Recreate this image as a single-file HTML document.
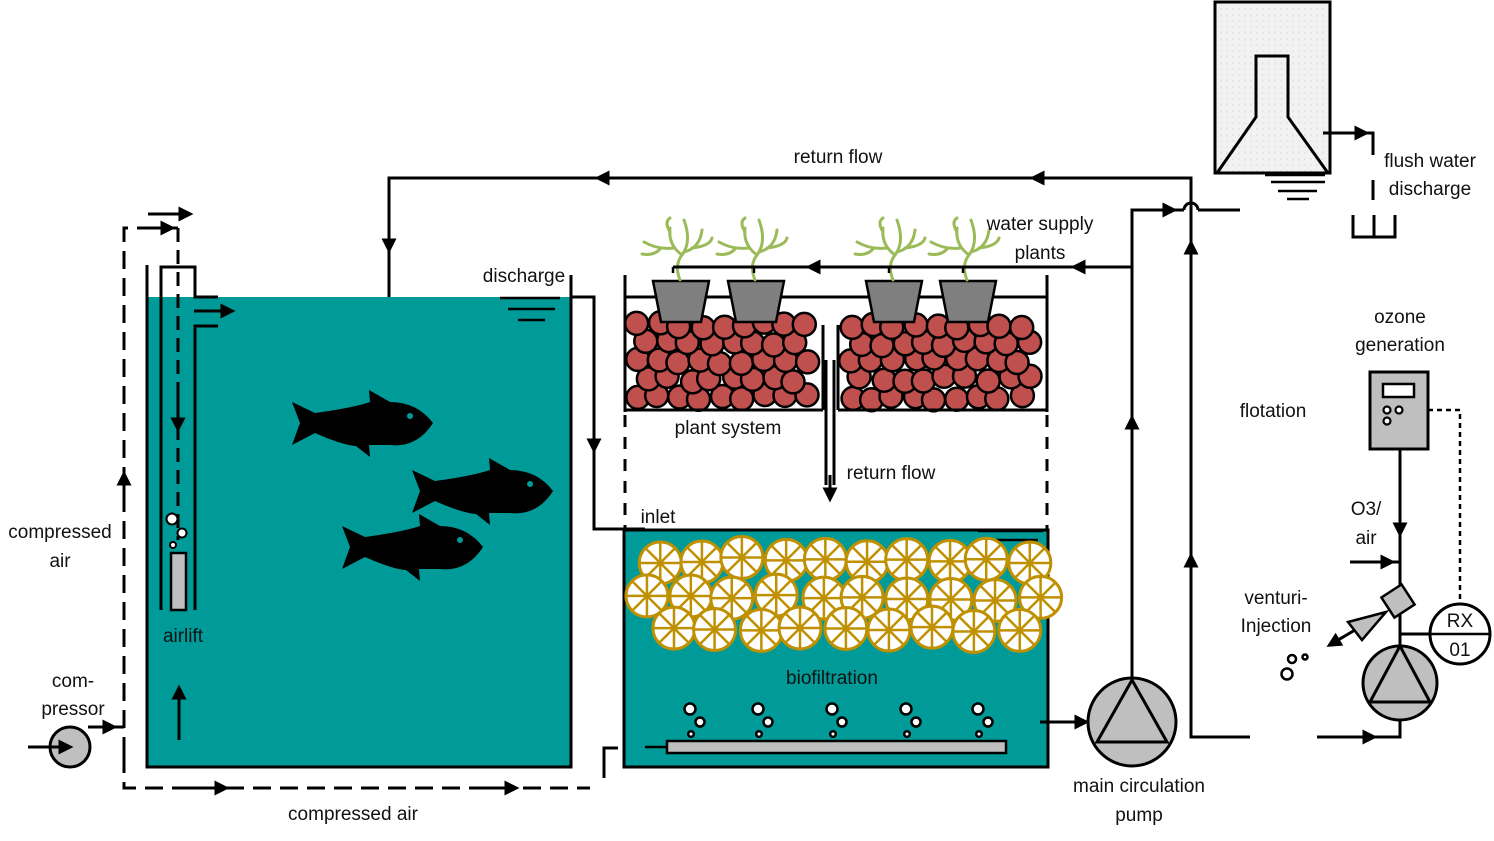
<!DOCTYPE html>
<html><head><meta charset="utf-8">
<style>
html,body{margin:0;padding:0;background:#fff;}
svg{display:block;}
text{font-family:"Liberation Sans Narrow","Liberation Sans",sans-serif;font-size:19px;fill:#111;}
</style></head>
<body>
<svg id="s" width="1494" height="841" viewBox="0 0 1494 841" xmlns="http://www.w3.org/2000/svg">
<defs>
<marker id="a" viewBox="0 0 10 10" refX="5" refY="5" markerWidth="5.5" markerHeight="5" orient="auto"><path d="M0,0L10,5L0,10z" fill="#000"/></marker>
<pattern id="dots" width="6" height="6" patternUnits="userSpaceOnUse"><rect width="6" height="6" fill="#f2f2f2"/><circle cx="3" cy="3" r="0.6" fill="#ccc"/></pattern>
<path id="fish" d="M0,12 L23,23 Q60,18 78,12 L77,0 L98,12 Q125,12 141,33 Q125,58 98,55 L77,55 L78,67 L64,56 Q50,55 23,43 L0,55 L8,33 Z"/>
<g id="plant" fill="none" stroke="#9bbb59" stroke-width="3" stroke-linecap="round">
<path d="M0,60 Q-6,45 2,35 Q12,22 4,0"/>
<path d="M2,35 Q-12,25 -10,8"/>
<path d="M-6,28 Q-22,30 -36,22"/>
<path d="M-20,29 Q-26,36 -38,34"/>
<path d="M4,32 Q20,28 22,10"/>
<path d="M12,28 Q30,26 32,18"/>
<path d="M-10,12 Q-16,2 -10,-2"/>
</g>
</defs>

<rect x="147" y="297" width="424" height="470" fill="#009b98"/>
<polyline points="147,265 147,767 571,767 571,275" fill="none" stroke="#000" stroke-width="3"/>
<polyline points="161,610 161,267 195,267 195,297 218,297" fill="none" stroke="#000" stroke-width="3"/>
<polyline points="195,610 195,326 218,326" fill="none" stroke="#000" stroke-width="3"/>
<line x1="194" y1="311" x2="228" y2="311" stroke="#000" stroke-width="3" marker-end="url(#a)"/>
<rect x="171" y="553" width="15" height="57" fill="#bfbfbf" stroke="#000" stroke-width="2.5"/>
<g fill="#fff" stroke="#000" stroke-width="2"><circle cx="172" cy="519" r="5.5"/><circle cx="182" cy="533" r="4.5"/><circle cx="173" cy="545" r="3"/></g>
<line x1="178" y1="228" x2="178" y2="540" stroke="#000" stroke-width="3" stroke-dasharray="14,8"/>
<line x1="178" y1="395" x2="178" y2="425" stroke="#000" stroke-width="3" marker-end="url(#a)"/>
<line x1="179" y1="740" x2="179" y2="692" stroke="#000" stroke-width="3" marker-end="url(#a)"/>
<polyline points="124,755 124,228 178,228" fill="none" stroke="#000" stroke-width="3" stroke-dasharray="18,9"/>
<polyline points="124,755 124,788 590,788" fill="none" stroke="#000" stroke-width="3" stroke-dasharray="18,9"/>
<polyline points="604,778 604,748 618,748" fill="none" stroke="#000" stroke-width="3"/>
<line x1="140" y1="228" x2="168" y2="228" stroke="#000" stroke-width="3" marker-end="url(#a)"/>
<line x1="148" y1="214" x2="186" y2="214" stroke="#000" stroke-width="3" marker-end="url(#a)"/>
<line x1="124" y1="500" x2="124" y2="478" stroke="#000" stroke-width="3" marker-end="url(#a)"/>
<line x1="190" y1="788" x2="222" y2="788" stroke="#000" stroke-width="3" marker-end="url(#a)"/>
<line x1="480" y1="788" x2="512" y2="788" stroke="#000" stroke-width="3" marker-end="url(#a)"/>
<circle cx="70" cy="747" r="20" fill="#bfbfbf" stroke="#000" stroke-width="3"/>
<line x1="28" y1="747" x2="66" y2="747" stroke="#000" stroke-width="3" marker-end="url(#a)"/>
<polyline points="88,727 124,727" fill="none" stroke="#000" stroke-width="3"/>
<line x1="88" y1="727" x2="110" y2="727" stroke="#000" stroke-width="3" marker-end="url(#a)"/>
<g fill="#000">
<use href="#fish" x="292" y="390"/><use href="#fish" x="412" y="458"/><use href="#fish" x="342" y="514"/>
</g>
<g fill="#009b98"><circle cx="410" cy="416" r="3"/><circle cx="530" cy="484" r="3"/><circle cx="460" cy="540" r="3"/></g>

<polyline points="389,297 389,178 1191,178 1191,737 1250,737" fill="none" stroke="#000" stroke-width="3"/>
<line x1="389" y1="225" x2="389" y2="246" stroke="#000" stroke-width="3" marker-end="url(#a)"/>
<line x1="630" y1="178" x2="602" y2="178" stroke="#000" stroke-width="3" marker-end="url(#a)"/>
<line x1="1065" y1="178" x2="1037" y2="178" stroke="#000" stroke-width="3" marker-end="url(#a)"/>
<line x1="1191" y1="270" x2="1191" y2="247" stroke="#000" stroke-width="3" marker-end="url(#a)"/>
<line x1="1191" y1="585" x2="1191" y2="560" stroke="#000" stroke-width="3" marker-end="url(#a)"/>

<g stroke="#000" stroke-width="2.5"><line x1="500" y1="298" x2="560" y2="298"/><line x1="508" y1="309" x2="555" y2="309"/><line x1="518" y1="320" x2="545" y2="320"/></g>
<polyline points="571,297 594,297 594,529 645,529" fill="none" stroke="#000" stroke-width="3"/>
<line x1="594" y1="425" x2="594" y2="446" stroke="#000" stroke-width="3" marker-end="url(#a)"/>

<rect x="625" y="297" width="422" height="113" fill="#fff"/>
<g id="pebbles"></g>
<g stroke="#000" stroke-width="3" fill="none">
<line x1="625" y1="275" x2="625" y2="412"/><line x1="1047" y1="275" x2="1047" y2="412"/>
<line x1="625" y1="297" x2="1047" y2="297"/>
<line x1="625" y1="410" x2="823" y2="410"/><line x1="838" y1="410" x2="1047" y2="410"/>
<line x1="823" y1="325" x2="823" y2="410"/><line x1="838" y1="325" x2="838" y2="410"/>
<line x1="826" y1="360" x2="826" y2="485"/><line x1="834" y1="360" x2="834" y2="485"/>
</g>
<line x1="830" y1="475" x2="830" y2="495" stroke="#000" stroke-width="3" marker-end="url(#a)"/>
<line x1="625" y1="415" x2="625" y2="530" stroke="#000" stroke-width="3" stroke-dasharray="12,10"/>
<line x1="1047" y1="415" x2="1047" y2="530" stroke="#000" stroke-width="3" stroke-dasharray="12,10"/>
<g fill="#7f7f7f" stroke="#000" stroke-width="2.5">
<path d="M653,281 L709,281 L701,322 L661,322 Z"/>
<path d="M728,281 L784,281 L776,322 L736,322 Z"/>
<path d="M866,281 L922,281 L914,322 L874,322 Z"/>
<path d="M940,281 L996,281 L988,322 L948,322 Z"/>
</g>
<use href="#plant" x="680" y="220"/><use href="#plant" x="755" y="220"/><use href="#plant" x="893" y="220"/><use href="#plant" x="967" y="220"/>
<polyline points="1132,267 673,267" fill="none" stroke="#000" stroke-width="3"/>
<g stroke="#000" stroke-width="2.5"><line x1="673" y1="267" x2="673" y2="273"/><line x1="754" y1="267" x2="754" y2="273"/><line x1="889" y1="267" x2="889" y2="273"/><line x1="963" y1="267" x2="963" y2="273"/></g>
<line x1="1100" y1="267" x2="1078" y2="267" stroke="#000" stroke-width="3" marker-end="url(#a)"/>
<line x1="835" y1="267" x2="813" y2="267" stroke="#000" stroke-width="3" marker-end="url(#a)"/>

<rect x="624" y="530" width="424" height="237" fill="#009b98" stroke="#000" stroke-width="3"/>
<g stroke="#000" stroke-width="2.5"><line x1="978" y1="531" x2="1043" y2="531"/><line x1="984" y1="540" x2="1038" y2="540"/></g>
<g id="wheels"></g>
<rect x="667" y="741" width="339" height="12" fill="#bfbfbf" stroke="#000" stroke-width="2.5"/>
<line x1="645" y1="747" x2="667" y2="747" stroke="#000" stroke-width="2.5"/>
<g id="bub" fill="none" stroke="#000" stroke-width="2.5"></g>

<circle cx="1132" cy="722" r="44" fill="#bfbfbf" stroke="#000" stroke-width="3"/>
<path d="M1132,680 L1097,742 L1167,742 Z" fill="none" stroke="#000" stroke-width="3"/>
<line x1="1040" y1="722" x2="1082" y2="722" stroke="#000" stroke-width="3" marker-end="url(#a)"/>
<polyline points="1132,678 1132,210 1184,210" fill="none" stroke="#000" stroke-width="3"/>
<path d="M1184,210 A7,7 0 0 1 1198,210" fill="none" stroke="#000" stroke-width="3"/>
<line x1="1198" y1="210" x2="1240" y2="210" stroke="#000" stroke-width="3"/>
<line x1="1145" y1="210" x2="1170" y2="210" stroke="#000" stroke-width="3" marker-end="url(#a)"/>
<line x1="1132" y1="445" x2="1132" y2="422" stroke="#000" stroke-width="3" marker-end="url(#a)"/>

<rect x="1215" y="2" width="115" height="171" fill="url(#dots)" stroke="#000" stroke-width="3"/>
<path d="M1217,173 L1256,117 L1256,56 L1288,56 L1288,117 L1328,173" fill="none" stroke="#000" stroke-width="3"/>
<g stroke="#000" stroke-width="2.5"><line x1="1265" y1="175" x2="1325" y2="175"/><line x1="1271" y1="182" x2="1325" y2="182"/><line x1="1278" y1="191" x2="1317" y2="191"/><line x1="1287" y1="199" x2="1309" y2="199"/></g>
<polyline points="1323,133 1373,133 1373,155" fill="none" stroke="#000" stroke-width="3"/>
<line x1="1335" y1="133" x2="1362" y2="133" stroke="#000" stroke-width="3" marker-end="url(#a)"/>
<line x1="1373" y1="180" x2="1373" y2="200" stroke="#000" stroke-width="3"/>
<polyline points="1353,215 1353,237 1395,237 1395,215" fill="none" stroke="#000" stroke-width="3"/>
<line x1="1374" y1="215" x2="1374" y2="237" stroke="#000" stroke-width="3"/>

<rect x="1370" y="372" width="58" height="77" fill="#bfbfbf" stroke="#000" stroke-width="3"/>
<rect x="1383" y="384" width="31" height="13" fill="#fff" stroke="#000" stroke-width="2.5"/>
<g fill="#fff" stroke="#000" stroke-width="2.2"><circle cx="1387" cy="410" r="3.5"/><circle cx="1399" cy="410" r="3.5"/><circle cx="1387" cy="421" r="3.5"/></g>
<polyline points="1428,410 1460,410 1460,605" fill="none" stroke="#000" stroke-width="2.5" stroke-dasharray="5,4"/>
<line x1="1400" y1="449" x2="1400" y2="646" stroke="#000" stroke-width="3"/>
<line x1="1400" y1="505" x2="1400" y2="530" stroke="#000" stroke-width="3" marker-end="url(#a)"/>
<line x1="1350" y1="562" x2="1400" y2="562" stroke="#000" stroke-width="3"/>
<line x1="1350" y1="562" x2="1388" y2="562" stroke="#000" stroke-width="3" marker-end="url(#a)"/>
<line x1="1400" y1="634" x2="1430" y2="634" stroke="#000" stroke-width="3"/>
<circle cx="1460" cy="634" r="30" fill="#fff" stroke="#000" stroke-width="3"/>
<line x1="1430" y1="634" x2="1490" y2="634" stroke="#000" stroke-width="2.5"/>
<rect x="1386" y="589" width="24" height="24" fill="#bfbfbf" stroke="#000" stroke-width="2.5" transform="rotate(-33 1398 601)"/>
<path d="M1386,612 L1348,622 L1362,640 Z" fill="#bfbfbf" stroke="#000" stroke-width="2.5"/>
<line x1="1355" y1="630" x2="1333" y2="643" stroke="#000" stroke-width="3" marker-end="url(#a)"/>
<g fill="none" stroke="#000" stroke-width="2.5"><circle cx="1292" cy="659" r="4"/><circle cx="1305" cy="657" r="2.5"/><circle cx="1287" cy="674" r="5.5"/></g>
<circle cx="1400" cy="683" r="37" fill="#bfbfbf" stroke="#000" stroke-width="3"/>
<path d="M1400,646 L1370,702 L1430,702 Z" fill="none" stroke="#000" stroke-width="3"/>
<polyline points="1317,737 1400,737 1400,720" fill="none" stroke="#000" stroke-width="3"/>
<line x1="1340" y1="737" x2="1370" y2="737" stroke="#000" stroke-width="3" marker-end="url(#a)"/>

<text x="838" y="163" text-anchor="middle">return flow</text>
<text x="1430" y="167" text-anchor="middle">flush water</text>
<text x="1430" y="195" text-anchor="middle">discharge</text>
<text x="1040" y="230" text-anchor="middle">water supply</text>
<text x="1040" y="259" text-anchor="middle">plants</text>
<text x="524" y="282" text-anchor="middle">discharge</text>
<text x="1400" y="323" text-anchor="middle">ozone</text>
<text x="1400" y="351" text-anchor="middle">generation</text>
<text x="1273" y="417" text-anchor="middle">flotation</text>
<text x="728" y="434" text-anchor="middle">plant system</text>
<text x="891" y="479" text-anchor="middle">return flow</text>
<text x="1366" y="515" text-anchor="middle">O3/</text>
<text x="1366" y="544" text-anchor="middle">air</text>
<text x="658" y="523" text-anchor="middle">inlet</text>
<text x="60" y="538" text-anchor="middle">compressed</text>
<text x="60" y="567" text-anchor="middle">air</text>
<text x="1276" y="604" text-anchor="middle">venturi-</text>
<text x="1276" y="632" text-anchor="middle">Injection</text>
<text x="1460" y="627" text-anchor="middle">RX</text>
<text x="1460" y="656" text-anchor="middle">01</text>
<text x="183" y="642" text-anchor="middle">airlift</text>
<text x="832" y="684" text-anchor="middle">biofiltration</text>
<text x="73" y="687" text-anchor="middle">com-</text>
<text x="73" y="715" text-anchor="middle">pressor</text>
<text x="1139" y="792" text-anchor="middle">main circulation</text>
<text x="1139" y="821" text-anchor="middle">pump</text>
<text x="353" y="820" text-anchor="middle">compressed air</text>
</svg>
<script>
(function(){
var NS="http://www.w3.org/2000/svg";
function el(p,n,a){var e=document.createElementNS(NS,n);for(var k in a)e.setAttribute(k,a[k]);p.appendChild(e);return e;}
var seed=7;function r(){seed=(seed*9301+49297)%233280;return seed/233280;}
var pg=document.getElementById("pebbles");
[[638,810],[852,1034]].forEach(function(rg){
 var row=0;
 for(var y=397;y>=310;y-=18){
  var off=(row%2)*10;row++;
  for(var x=rg[0]+off;x<=rg[1];x+=21){
   var cx=x+(r()-0.5)*6, cy=y+(r()-0.5)*6;
   el(pg,"circle",{cx:cx.toFixed(1),cy:cy.toFixed(1),r:11.5,fill:"#c0504d",stroke:"#000","stroke-width":2.5});
  }
 }
});
var wg=document.getElementById("wheels");
var rows=[[560,660,1030,10],[598,646,1040,10],[630,672,1020,9]];
rows.forEach(function(rw){
 var n=rw[3];
 for(var i=0;i<n;i++){
  var cx=rw[1]+(rw[2]-rw[1])*i/(n-1)+(r()-0.5)*6, cy=rw[0]+(r()-0.5)*6;
  var g=el(wg,"g",{});
  el(g,"circle",{cx:cx,cy:cy,r:21,fill:"#fff",stroke:"#bf9000","stroke-width":3});
  for(var k=0;k<4;k++){var a=k*Math.PI/4;
   el(g,"line",{x1:cx-21*Math.cos(a),y1:cy-21*Math.sin(a),x2:cx+21*Math.cos(a),y2:cy+21*Math.sin(a),stroke:"#bf9000","stroke-width":2.5});}
 }
});
var bg=document.getElementById("bub");
[690,758,832,906,978].forEach(function(x){
 el(bg,"circle",{cx:x,cy:709,r:5.5,fill:"#fff"});
 el(bg,"circle",{cx:x+10,cy:722,r:4.5,fill:"#fff"});
 el(bg,"circle",{cx:x+1,cy:734,r:2.8,fill:"#fff"});
});
})();
</script>
</body></html>
